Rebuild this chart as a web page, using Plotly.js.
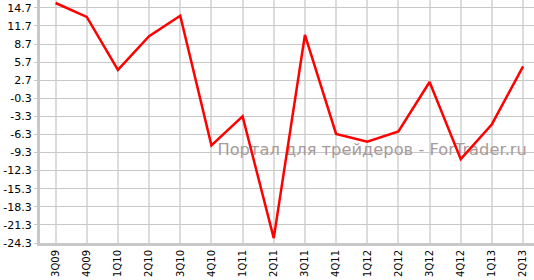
<!DOCTYPE html>
<html><head><meta charset="utf-8">
<script src="https://cdn.plot.ly/plotly-3.0.1.min.js"></script>
<style>html,body{margin:0;padding:0;background:#fff}#c{width:534px;height:280px}</style>
</head><body><div id="c"></div>
<script>
const categories = ["3Q09","4Q09","1Q10","2Q10","3Q10","4Q10","1Q11","2Q11","3Q11","4Q11","1Q12","2Q12","3Q12","4Q12","1Q13","2Q13"];
const values = [15.5,13.2,4.4,10.0,13.4,-8.1,-3.3,-23.5,10.2,-6.2,-7.5,-5.8,2.4,-10.4,-4.6,5.0];
const yTicks = [14.7,11.7,8.7,5.7,2.7,-0.3,-3.3,-6.3,-9.3,-12.3,-15.3,-18.3,-21.3,-24.3];
const watermark = "Портал для трейдеров - ForTrader.ru";

const wm = {x:[15.12], y:[-9.04], type:'scatter', mode:'text', text:[watermark], textposition:'middle left',
  textfont:{family:'DejaVu Sans, Verdana, sans-serif', size:16.3, color:'#a89a9a'}, hoverinfo:'none'};
const trace = {x: categories.map((c,i)=>i), y: values, type:'scatter', mode:'lines',
  line:{color:'#ff0000', width:2.5}, hoverinfo:'none'};
const layout = {
  width:534, height:280, margin:{l:40,r:0,t:0,b:37},
  paper_bgcolor:'#fff', plot_bgcolor:'#fff', showlegend:false,
  font:{family:'DejaVu Sans, Verdana, sans-serif', size:11, color:'#000'},
  xaxis:{range:[-0.5,15.35], tickmode:'array', tickvals:categories.map((c,i)=>i), ticktext:categories,
    tickangle:-90, showgrid:true, gridcolor:'#dcdcdc', gridwidth:2, zeroline:false,
    showline:true, linecolor:'#c8c8c8', linewidth:3, ticks:'', tickfont:{size:10}},
  yaxis:{range:[-24.3,16.0], tickmode:'array', tickvals:yTicks, ticktext:yTicks.map(v=>v.toFixed(1)),
    showgrid:true, gridcolor:'#c8c8c8', gridwidth:1, zeroline:false,
    showline:true, linecolor:'#c8c8c8', linewidth:3, ticks:'outside', ticklen:3, tickcolor:'#c8c8c8',
    tickfont:{size:11}}
};
Plotly.newPlot('c',[wm, trace],layout,{staticPlot:true});
</script></body></html>
